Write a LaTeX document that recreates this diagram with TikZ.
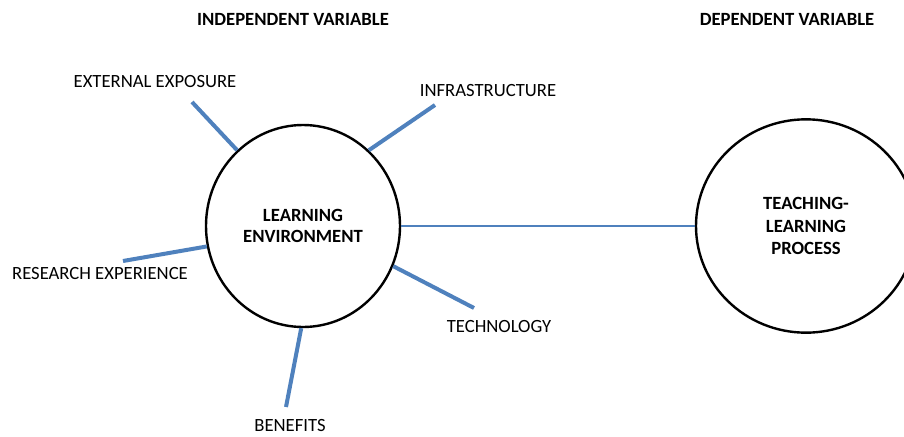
\documentclass[tikz,border=0pt]{standalone}
\usepackage{fontspec}
\setmainfont{Carlito}
\usepackage{xcolor}
\usepackage{tikz}
\usetikzlibrary{shapes.geometric}
\definecolor{spokeblue}{HTML}{4F81BD}
\tikzstyle{big node}=[fill=white, draw=black, line width=1.8pt, shape=ellipse, inner sep=0pt, align=center]
\tikzstyle{label}=[inner sep=0pt, font=\fontsize{14}{17}\selectfont]
\tikzstyle{head}=[inner sep=0pt, font=\fontsize{14}{17}\selectfont\bfseries]
\tikzstyle{spoke}=[-, draw=spokeblue, line width=3pt]
\tikzstyle{link}=[-, draw=spokeblue, line width=1.5pt]
\pgfdeclarelayer{nodelayer}
\pgfdeclarelayer{edgelayer}
\pgfsetlayers{nodelayer,edgelayer}

\begin{document}
\begin{tikzpicture}[x=0.75pt, y=-0.75pt]
	\useasboundingbox (0,0) rectangle (904,436);
	\begin{pgfonlayer}{nodelayer}
		\node [style=head] (0) at (293, 19) {INDEPENDENT VARIABLE};
		\node [style=head] (1) at (787, 19) {DEPENDENT VARIABLE};
		\node [style=big node, minimum width=145.5pt, minimum height=151.5pt, font=\fontsize{14}{15.75}\selectfont\bfseries] (2) at (303, 226) {LEARNING\\ENVIRONMENT};
		\node [style=big node, minimum width=165pt, minimum height=160pt, font=\fontsize{14}{17}\selectfont\bfseries] (3) at (806, 226) {TEACHING-\\LEARNING\\PROCESS};
		\node [style=label] (4) at (155, 82) {EXTERNAL EXPOSURE};
		\node [style=label] (5) at (488, 91) {INFRASTRUCTURE};
		\node [style=label] (6) at (100, 274) {RESEARCH EXPERIENCE};
		\node [style=label] (7) at (499, 327) {TECHNOLOGY};
		\node [style=label] (8) at (290, 426) {BENEFITS};
		\coordinate (9) at (192, 102);
		\coordinate (10) at (435, 105);
		\coordinate (11) at (123, 261);
		\coordinate (12) at (474, 308);
		\coordinate (13) at (286, 407);
	\end{pgfonlayer}
	\begin{pgfonlayer}{edgelayer}
		\draw [style=spoke] (2.131.7) to (9);
		\draw [style=spoke] (2.49) to (10);
		\draw [style=spoke] (2.192.3) to (11);
		\draw [style=spoke] (2.336.4) to (12);
		\draw [style=spoke] (2.269) to (13);
		\draw [style=link] (2.east) to (3.west);
	\end{pgfonlayer}
\end{tikzpicture}
\end{document}
